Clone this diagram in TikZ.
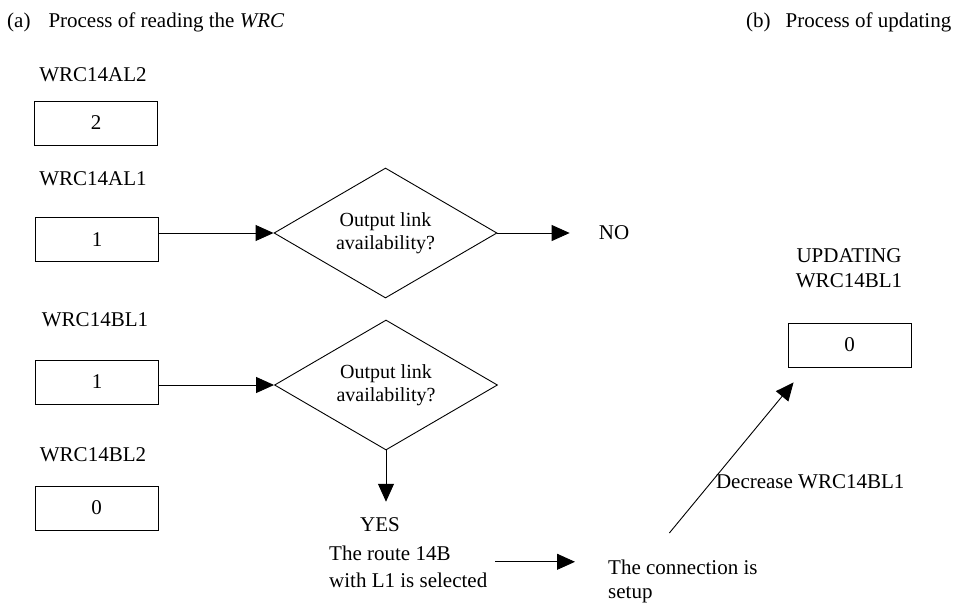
\documentclass[tikz,border=0pt]{standalone}
\usepackage{fontspec}
\setmainfont{Liberation Serif}
\usetikzlibrary{shapes.geometric,arrows.meta}
\begin{document}
\begin{tikzpicture}[x=1pt,y=-1pt,
 every node/.style={font=\fontsize{21}{25}\selectfont, inner sep=0pt},
 valbox/.style={draw, line width=0.9pt, minimum width=123pt, minimum height=44pt},
 decision/.style={draw, line width=0.9pt, diamond, aspect=1.7, minimum width=223pt, minimum height=130pt, align=center, font=\fontsize{20}{23}\selectfont},
 arr/.style={line width=0.9pt, -{Triangle[length=18pt,width=16pt]}},
 multi/.style={align=left, font=\fontsize{21}{27}\selectfont}]
\useasboundingbox (0,0) rectangle (969,603);

% headers
\node[anchor=west] (ha) at (7,22) {(a)\hspace{18pt}Process of reading the \textit{WRC}};
\node[anchor=west] (hb) at (746,22) {(b)\hspace{15pt}Process of updating};

% left labels and boxes
\node (lal2) at (93,75) {WRC14AL2};
\node[valbox] (al2) at (96,123) {2};
\node (lal1) at (93,179) {WRC14AL1};
\node[valbox] (al1) at (97,239.5) {1};
\node (lbl1) at (95,320) {WRC14BL1};
\node[valbox] (bl1) at (97,382) {1};
\node (lbl2) at (93,455) {WRC14BL2};
\node[valbox] (bl2) at (96.5,508) {0};

% decisions
\node[decision] (d1) at (385.5,233) {Output link\\availability?};
\node[decision] (d2) at (386,385) {Output link\\availability?};

\node (no) at (614,233) {NO};
\node (yes) at (380,525) {YES};
\node[multi, anchor=north west] (route) at (329,545.7) {The route 14B\\with L1 is selected};
\node[align=left, font=\fontsize{21}{24}\selectfont, anchor=north west] (conn) at (608,560) {The connection is\\setup};

% updating
\node[align=center] (updl) at (849,268) {UPDATING\\WRC14BL1};
\node[valbox] (upd) at (849.5,345) {0};

% connectors
\draw[arr] (al1.east |- d1.west) -- (d1.west);
\draw[arr] (bl1.east |- d2.west) -- (d2.west);
\draw[arr] (d1.east) -- ([xshift=-29pt]no.west);
\draw[arr, shorten >=16pt] (d2.south) -- (d2.south |- yes.north);
\draw[arr] ([shift={(8pt,5pt)}]route.east) coordinate (r1) -- ([xshift=-33pt]conn.west |- r1);
\draw[arr] ([shift={(-13.5pt,27pt)}]conn.north) -- node[pos=0.34, anchor=west, xshift=4pt] {Decrease WRC14BL1} ([shift={(6pt,-15pt)}]upd.south west);
\end{tikzpicture}
\end{document}
